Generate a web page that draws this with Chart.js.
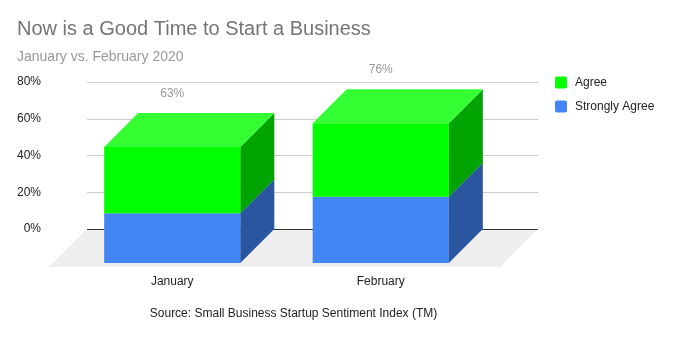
<!DOCTYPE html>
<html>
<head>
<meta charset="utf-8">
<script src="https://cdn.jsdelivr.net/npm/chart.js@4.4.1/dist/chart.umd.min.js"></script>
<style>
  html, body { margin: 0; padding: 0; background: #fff; }
  #wrap { width: 673px; height: 337px; }
</style>
</head>
<body>
<div id="wrap"><canvas id="chart"></canvas></div>
<script>
// data
const months = ['January', 'February'];
const stronglyAgree = [27, 36];
const agree = [36, 40];
const yTicks = [0, 20, 40, 60, 80];

// 3d look
const DEPTH = 34;        // box depth (px, along the 45deg diagonal)
const FLOOR_DEPTH = 38;  // floor is a bit deeper than the boxes
const faces = {
    'Strongly Agree': { front: '#4285f4', side: '#2a56a0', top: '#5c97f6' },
    'Agree':          { front: '#00ff00', side: '#00a300', top: '#33ff33' }
};

const fill = (ctx, pts, color) => {
    ctx.beginPath();
    ctx.moveTo(pts[0][0], pts[0][1]);
    for (let i = 1; i < pts.length; i++) ctx.lineTo(pts[i][0], pts[i][1]);
    ctx.closePath();
    ctx.fillStyle = color;
    ctx.fill();
};

// floor + gridlines drawn on the back wall, boxes drawn from the bar elements
const box3d = {
    id: 'box3d',
    beforeDatasetsDraw(chart) {
        const { ctx, chartArea } = chart;
        const y = chart.scales.y;
        const left = chartArea.left + 2;
        const right = chartArea.right + 36;
        const base = y.getPixelForValue(0);
        ctx.save();
        fill(ctx, [[left, base], [right, base],
                   [right - FLOOR_DEPTH, base + FLOOR_DEPTH], [left - FLOOR_DEPTH, base + FLOOR_DEPTH]], '#eeeeee');
        yTicks.forEach(v => {
            const py = Math.round(y.getPixelForValue(v)) + 0.5;
            ctx.beginPath();
            ctx.moveTo(left, py);
            ctx.lineTo(right, py);
            ctx.lineWidth = 1;
            ctx.strokeStyle = v === 0 ? '#333333' : '#cccccc';
            ctx.stroke();
        });
        ctx.restore();
    },
    beforeDatasetDraw() {
        return false; // flat bars are replaced by the boxes below
    },
    afterDatasetsDraw(chart) {
        const { ctx } = chart;
        const d = DEPTH;
        const metas = chart.getSortedVisibleDatasetMetas();
        ctx.save();
        months.forEach((m, i) => {
            metas.forEach((meta, k) => {
                const bar = meta.data[i];
                const c = faces[meta.label];
                const p = bar.getProps(['x', 'y', 'base', 'width'], true);
                // category centre sits in the middle of the box depth
                const fl = p.x - d / 2 - p.width / 2;
                const fr = p.x - d / 2 + p.width / 2;
                const ft = p.y + d;
                const fb = p.base + d;
                fill(ctx, [[fl, ft], [fr, ft], [fr, fb], [fl, fb]], c.front);
                fill(ctx, [[fr, ft], [fr + d, ft - d], [fr + d, fb - d], [fr, fb]], c.side);
                if (k === metas.length - 1) {
                    fill(ctx, [[fl, ft], [fl + d, ft - d], [fr + d, ft - d], [fr, ft]], c.top);
                    const total = stronglyAgree[i] + agree[i];
                    ctx.fillStyle = '#999999';
                    ctx.font = '12px "Liberation Sans", Arial, sans-serif';
                    ctx.textAlign = 'center';
                    ctx.textBaseline = 'middle';
                    ctx.fillText(total + '%', (fl + fr) / 2, p.y - 19);
                }
            });
        });
        ctx.restore();
    },
    afterDraw(chart) {
        // legend, right side
        const { ctx } = chart;
        const items = [['Agree', faces['Agree'].front], ['Strongly Agree', faces['Strongly Agree'].front]];
        ctx.save();
        ctx.font = '12px "Liberation Sans", Arial, sans-serif';
        ctx.textBaseline = 'middle';
        ctx.textAlign = 'left';
        items.forEach(([label, color], i) => {
            const cy = 82.5 + i * 24;
            ctx.fillStyle = color;
            ctx.beginPath();
            ctx.roundRect(555, cy - 6, 12, 12, 2);
            ctx.fill();
            ctx.fillStyle = '#222222';
            ctx.fillText(label, 575, cy);
        });
        ctx.restore();
    }
};

const ctx = document.getElementById('chart').getContext('2d');
new Chart(ctx, {
    type: 'bar',
    data: {
        labels: months,
        datasets: [
            { label: 'Strongly Agree', data: stronglyAgree, backgroundColor: faces['Strongly Agree'].front },
            { label: 'Agree', data: agree, backgroundColor: faces['Agree'].front }
        ]
    },
    options: {
        responsive: true,
        maintainAspectRatio: false,
        animation: false,
        devicePixelRatio: 1,
        layout: { padding: { left: 17, right: 171, top: 0, bottom: 16 } },
        datasets: { bar: { barPercentage: 0.653, categoryPercentage: 1 } },
        scales: {
            x: {
                stacked: true,
                grid: { display: false, drawTicks: false },
                border: { display: false },
                afterFit: (scale) => { scale.height = 92; },
                ticks: {
                    padding: 45,
                    labelOffset: -DEPTH / 2,
                    color: '#222222',
                    font: { family: '"Liberation Sans", Arial, sans-serif', size: 12 }
                },
                title: {
                    display: true,
                    text: 'Source: Small Business Startup Sentiment Index (TM)',
                    color: '#222222',
                    padding: { top: 18, bottom: 0 },
                    font: { family: '"Liberation Sans", Arial, sans-serif', size: 12 }
                }
            },
            y: {
                stacked: true,
                min: 0,
                max: 80,
                grid: { display: false, drawTicks: false },
                border: { display: false },
                afterFit: (scale) => { scale.width = 68; },
                afterBuildTicks: (scale) => { scale.ticks = yTicks.map(v => ({ value: v })); },
                ticks: {
                    padding: 44,
                    color: '#222222',
                    font: { family: '"Liberation Sans", Arial, sans-serif', size: 12 },
                    callback: (v) => v + '%'
                }
            }
        },
        plugins: {
            legend: { display: false },
            tooltip: { enabled: false },
            title: {
                display: true,
                text: 'Now is a Good Time to Start a Business',
                align: 'start',
                color: '#757575',
                padding: { top: 17, bottom: 8 },
                font: { family: '"Liberation Sans", Arial, sans-serif', size: 20, weight: 'normal' }
            },
            subtitle: {
                display: true,
                text: 'January vs. February 2020',
                align: 'start',
                color: '#999999',
                padding: { top: 0, bottom: 16 },
                font: { family: '"Liberation Sans", Arial, sans-serif', size: 14 }
            }
        }
    },
    plugins: [box3d]
});
</script>
</body>
</html>
